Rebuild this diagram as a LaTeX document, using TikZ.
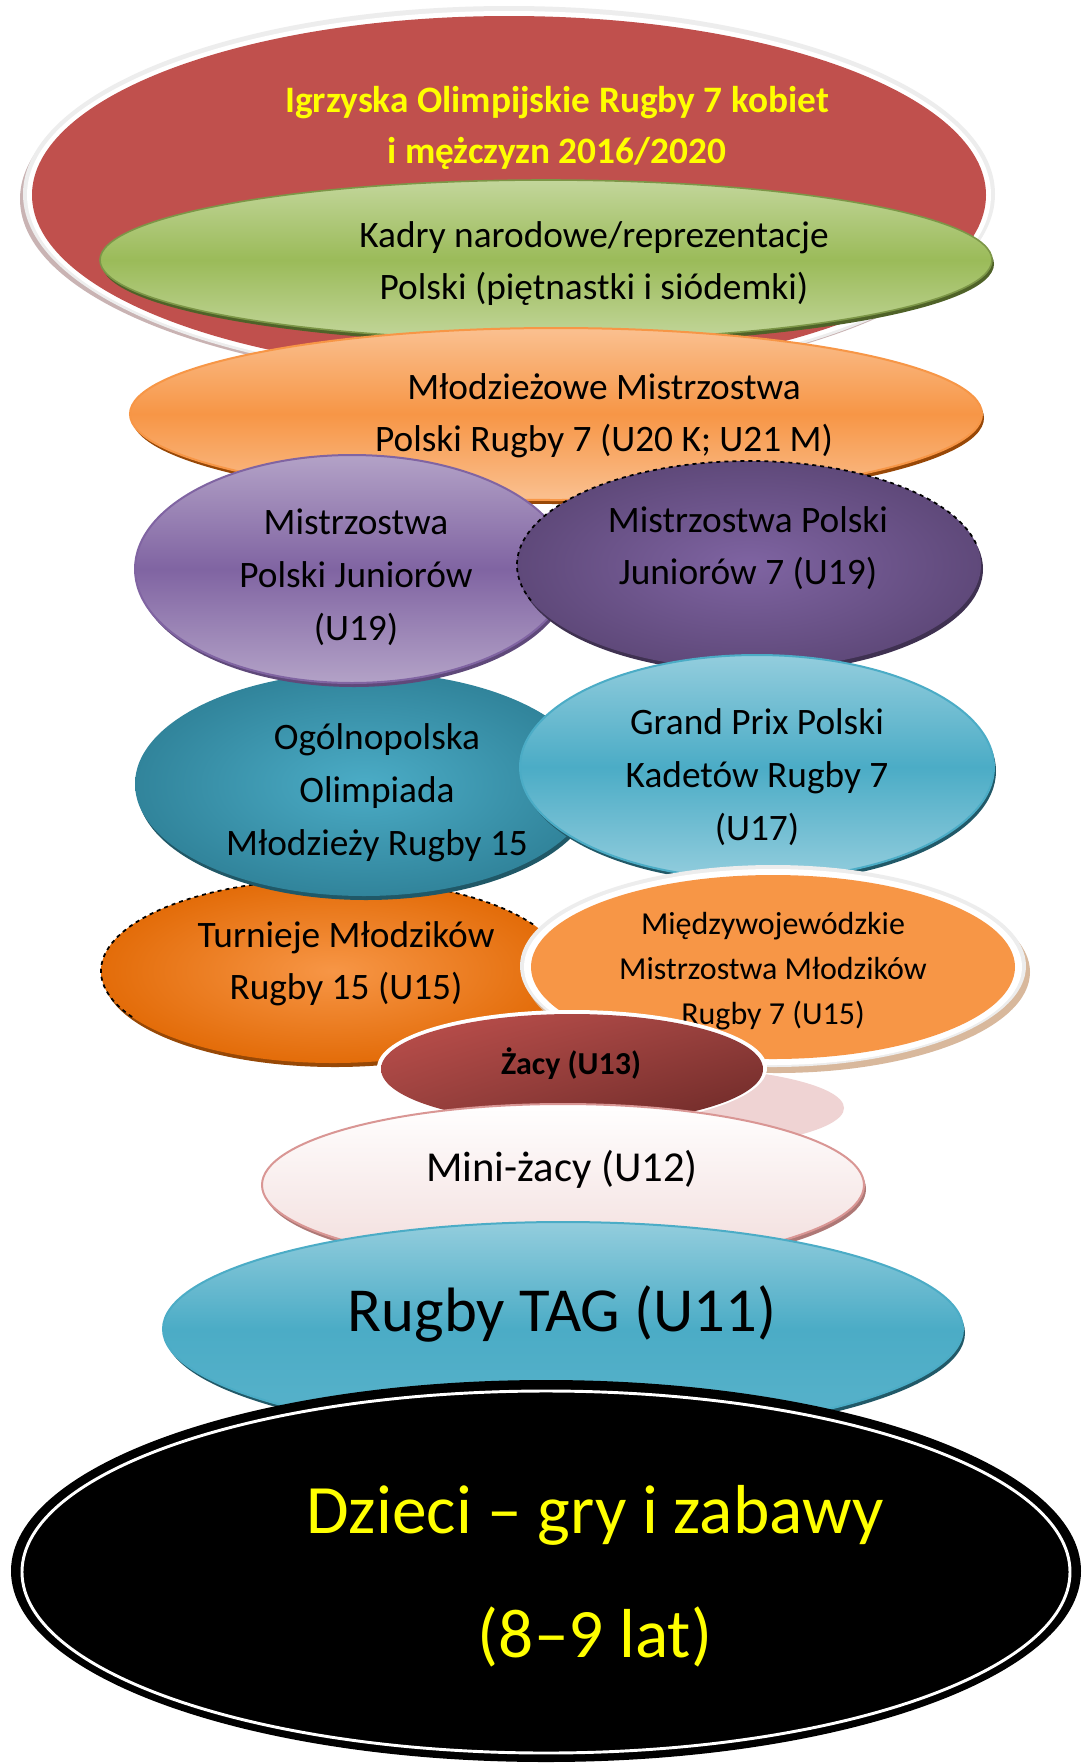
\documentclass[tikz,border=0pt]{standalone}
\usepackage{fontspec}
\setmainfont{Carlito}
\usetikzlibrary{shadings}
\definecolor{cRed}{HTML}{C0504D}
\definecolor{cRedSh}{HTML}{C9B3B3}
\definecolor{cRing}{HTML}{EDEDED}
\definecolor{cGreenD}{HTML}{9BBB59}
\definecolor{cGreenL}{HTML}{C3D69B}
\definecolor{cGreenSh}{HTML}{4F6228}
\definecolor{cOrD}{HTML}{F79646}
\definecolor{cOrL}{HTML}{FAC090}
\definecolor{cOrSh}{HTML}{984807}
\definecolor{cPuD}{HTML}{8064A2}
\definecolor{cPuL}{HTML}{B3A2C7}
\definecolor{cPuSh}{HTML}{5F497A}
\definecolor{cDpO}{HTML}{5F497A}
\definecolor{cDpI}{HTML}{7F64A2}
\definecolor{cDpSh}{HTML}{3F3151}
\definecolor{cTeO}{HTML}{31849B}
\definecolor{cTeI}{HTML}{4BACC6}
\definecolor{cTeSh}{HTML}{205867}
\definecolor{cBlD}{HTML}{4BACC6}
\definecolor{cBlL}{HTML}{93CDDD}
\definecolor{cBlSh}{HTML}{215968}
\definecolor{cDoO}{HTML}{E36C09}
\definecolor{cDoI}{HTML}{F79646}
\definecolor{cDoSh}{HTML}{974806}
\definecolor{cLoSh}{HTML}{D8B89C}
\definecolor{cZaL}{HTML}{C0504D}
\definecolor{cZaD}{HTML}{6B2826}
\definecolor{cZaM}{HTML}{96403D}
\definecolor{cZaSh}{HTML}{EFD3D3}
\definecolor{cMiB}{HTML}{F2DCDB}
\definecolor{cMiBd}{HTML}{D99694}
\definecolor{cYel}{HTML}{FFFF00}
\tikzset{
  txt/.style={align=center, inner sep=0pt, text=black},
  regular/.style={font=\fontsize{28}{39}\selectfont},
}
\begin{document}
\begin{tikzpicture}[x=0.75pt,y=-0.75pt]
\useasboundingbox (0,0) rectangle (1082,1764);
\fill[white] (0,0) rectangle (1082,1764);

% 1 red
\fill[cRedSh] (506,199) ellipse [x radius=486, y radius=184];
\fill[cRing] (509,194) ellipse [x radius=486, y radius=188];
\fill[white] (509,195) ellipse [x radius=482, y radius=184];
\fill[cRed] (509,195) ellipse [x radius=477, y radius=179];
\node[txt, font=\bfseries\fontsize{28}{38.5}\selectfont, text=cYel] (tRed) at (557,128)
  {Igrzyska Olimpijskie Rugby 7 kobiet\\i mężczyzn 2016/2020};

% 2 green
\fill[cGreenSh] (548,264) ellipse [x radius=446, y radius=80];
\shade[top color=cGreenL, bottom color=cGreenL, middle color=cGreenD, draw=cGreenD!80!black, line width=1.2pt]
  (546,260) ellipse [x radius=446, y radius=80];
\node[txt, regular] (tGreen) at (594,263.5) {Kadry narodowe/reprezentacje\\Polski (piętnastki i siódemki)};

% 3 orange
\fill[cOrSh] (558,418) ellipse [x radius=426, y radius=86];
\shade[top color=cOrL, bottom color=cOrL, middle color=cOrD, draw=cOrD, line width=1.5pt]
  (556,414) ellipse [x radius=426, y radius=86];
\node[txt, regular] (tOrange) at (604,415.5) {Młodzieżowe Mistrzostwa\\Polski Rugby 7 (U20 K; U21 M)};

% 8 dark orange
\fill[cDoSh] (335,975) ellipse [x radius=232, y radius=92];
\shade[inner color=cDoI, outer color=cDoO] (333,971) ellipse [x radius=232, y radius=92];
\draw[black, dashed, line width=1.3pt] (333,971) +(150:232 and 92) arc [start angle=150, end angle=330, x radius=232, y radius=92];
\node[txt, regular] (tDorange) at (346,963.5) {Turnieje Młodzików\\Rugby 15 (U15)};

% 6 teal
\fill[cTeSh] (366,788) ellipse [x radius=229, y radius=112];
\shade[inner color=cTeI, outer color=cTeO] (364,784) ellipse [x radius=229, y radius=112];
\node[txt, regular, font=\fontsize{28}{39.75}\selectfont] (tTeal) at (377,793) {Ogólnopolska\\Olimpiada\\Młodzieży Rugby 15};

% 4 purple light
\fill[cPuSh] (354,573) ellipse [x radius=217, y radius=114];
\shade[top color=cPuL, bottom color=cPuL, middle color=cPuD, draw=cPuD, line width=1.5pt]
  (352,569) ellipse [x radius=217, y radius=114];
\node[txt, regular, font=\fontsize{28}{39.75}\selectfont] (tPurple) at (356,577.5) {Mistrzostwa\\Polski Juniorów\\(U19)};

% 5 dark purple
\fill[cDpSh] (751,569) ellipse [x radius=232, y radius=104];
\shade[inner color=cDpI, outer color=cDpO] (749,565) ellipse [x radius=232, y radius=104];
\draw[black, dashed, line width=1.3pt] (749,565) +(160:232 and 104) arc [start angle=160, end angle=350, x radius=232, y radius=104];
\node[txt, regular] (tDpurple) at (748,548.5) {Mistrzostwa Polski\\Juniorów 7 (U19)};

% 7 light blue
\fill[cBlSh] (759,771) ellipse [x radius=237, y radius=112];
\shade[top color=cBlL, bottom color=cBlL, middle color=cBlD, draw=cBlD, line width=1.5pt]
  (757,767) ellipse [x radius=237, y radius=112];
\node[txt, regular, font=\fontsize{28}{39.75}\selectfont] (tBlue) at (757,777.5) {Grand Prix Polski\\Kadetów Rugby 7\\(U17)};

% 9 light orange
\fill[cLoSh] (777,972) ellipse [x radius=253, y radius=101];
\fill[cRing] (773,966) ellipse [x radius=253, y radius=101];
\fill[white] (773,967) ellipse [x radius=249, y radius=98];
\fill[cOrD] (773,967) ellipse [x radius=242, y radius=92];
\node[txt, font=\fontsize{24}{33.75}\selectfont] (tLorange) at (773,971.5) {Międzywojewódzkie\\Mistrzostwa Młodzików\\Rugby 7 (U15)};

% 10 zacy
\fill[cZaSh] (652,1108) ellipse [x radius=192, y radius=42];
\fill[white] (572,1068) ellipse [x radius=195, y radius=58];
\shade[upper left=cZaL, lower right=cZaD, upper right=cZaM, lower left=cZaM] (572,1069) ellipse [x radius=191, y radius=55];
\node[txt, font=\bfseries\fontsize{24}{30}\selectfont] (tZacy) at (571,1063.5) {Żacy (U13)};

% 11 mini
\fill[cMiBd!80!black] (565,1189) ellipse [x radius=301, y radius=81];
\shade[top color=white, bottom color=cMiB, draw=cMiBd, line width=1.5pt]
  (563,1185) ellipse [x radius=301, y radius=81];
\node[txt, font=\fontsize{32}{40}\selectfont] (tMini) at (562,1169.5) {Mini-żacy (U12)};

% 12 TAG
\fill[cBlSh] (565,1333) ellipse [x radius=400, y radius=107];
\shade[top color=cBlL, bottom color=cBlD!80!cBlL, middle color=cBlD, draw=cBlD, line width=1.5pt]
  (563,1329) ellipse [x radius=400, y radius=107];
\node[txt, font=\fontsize{47}{55}\selectfont] (tTag) at (562,1313.5) {Rugby TAG (U11)};

% 13 black
\fill[black] (546,1571) ellipse [x radius=535, y radius=191];
\draw[white, line width=2.2pt] (546,1572) ellipse [x radius=524, y radius=181];
\node[txt, font=\fontsize{52}{93}\selectfont, text=cYel] (tDzieci) at (595,1576) {Dzieci – gry i zabawy\\(8–9 lat)};
\end{tikzpicture}
\end{document}
